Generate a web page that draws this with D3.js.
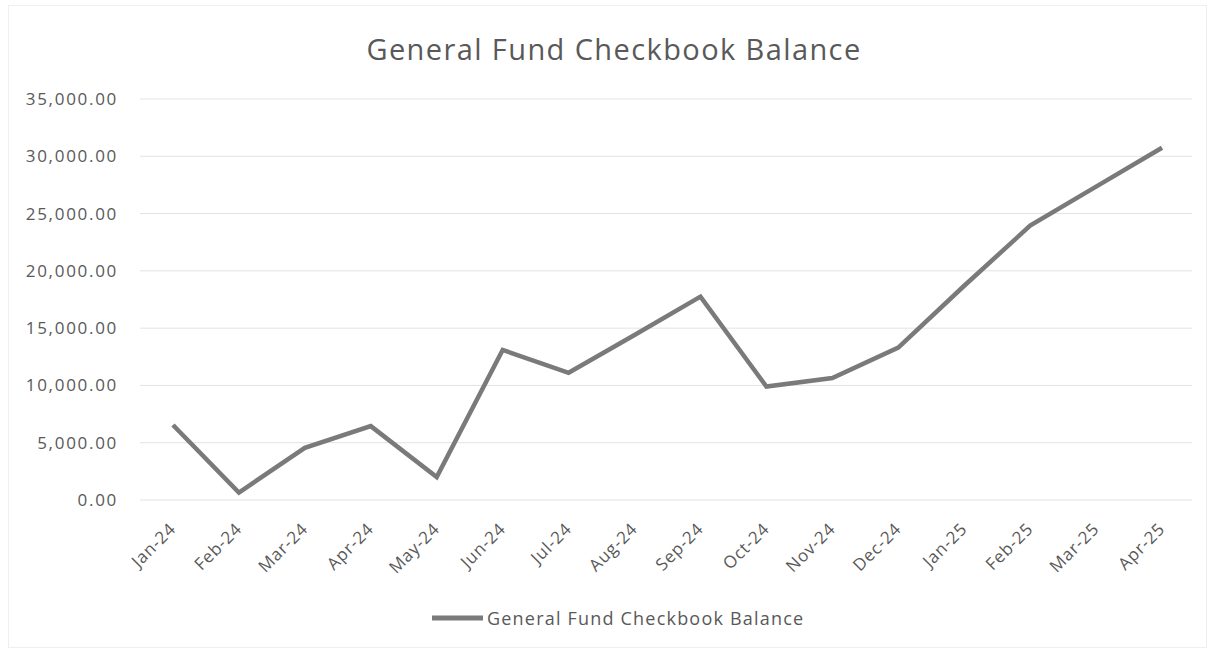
<!DOCTYPE html>
<html>
<head>
<meta charset="utf-8">
<script src="https://cdn.jsdelivr.net/npm/d3@7"></script>
<style>
  body { margin: 0; background: #fff; }
  text { font-family: "Open Sans", "Liberation Sans", sans-serif; fill: #595959; }
</style>
</head>
<body>
<div id="chart"></div>
<script>
// data
var months = ["Jan-24", "Feb-24", "Mar-24", "Apr-24", "May-24", "Jun-24", "Jul-24", "Aug-24",
              "Sep-24", "Oct-24", "Nov-24", "Dec-24", "Jan-25", "Feb-25", "Mar-25", "Apr-25"]
var balance = [6550, 650, 4550, 6450, 2000, 13100, 11100, 14400,
               17750, 9900, 10650, 13300, 18700, 23950, 27350, 30750]
var yTicks = [0, 5000, 10000, 15000, 20000, 25000, 30000, 35000]
var seriesName = "General Fund Checkbook Balance"

var W = 1215, H = 652
var plotLeft = 140, plotRight = 1195, plotTop = 99, plotBottom = 500

var svg = d3.select("#chart").append("svg")
    .attr("width", W)
    .attr("height", H)

// faint frame of the chart area
svg.append("rect")
    .attr("x", 8.5).attr("y", 5.5)
    .attr("width", W - 17).attr("height", H - 10)
    .style("fill", "none")
    .style("stroke", "#efefef")

var x = d3.scaleBand().domain(months).range([plotLeft, plotRight])
var y = d3.scaleLinear().domain([0, 35000]).range([plotBottom, plotTop])

// title
svg.append("text")
    .attr("x", 614)
    .attr("y", 60)
    .attr("text-anchor", "middle")
    .style("font-size", "29px")
    .style("letter-spacing", "1.4px")
    .text("General Fund Checkbook Balance")

// horizontal grid lines
svg.append("g").selectAll("line").data(yTicks).join("line")
    .attr("x1", plotLeft)
    .attr("x2", plotRight - 3)
    .attr("y1", d => y(d))
    .attr("y2", d => y(d))
    .style("stroke", "#e2e2e2")
    .style("stroke-width", 1)

// y axis labels
var fmt = d3.format(",.2f")
var yAxis = d3.axisLeft(y).tickValues(yTicks).tickFormat(fmt).tickSize(0).tickPadding(0)
var gy = svg.append("g")
    .attr("transform", "translate(118,0)")
    .call(yAxis)
gy.select(".domain").remove()
gy.selectAll("text")
    .style("font-size", "17px")
    .style("letter-spacing", "1.7px")
    .style("fill", "#595959")
    .style("font-family", "'Open Sans', sans-serif")

// x axis labels, rotated
var xAxis = d3.axisBottom(x).tickSize(0).tickPadding(0)
var gx = svg.append("g")
    .attr("transform", "translate(0," + plotBottom + ")")
    .call(xAxis)
gx.select(".domain").remove()
gx.selectAll("text")
    .style("font-size", "17px")
    .style("letter-spacing", "0.8px")
    .style("fill", "#595959")
    .style("font-family", "'Open Sans', sans-serif")
    .attr("text-anchor", "end")
    .attr("dy", null)
    .attr("y", 0)
    .attr("transform", "translate(4,30) rotate(-45)")

// the line
var line = d3.line()
    .x((d, i) => x(months[i]) + x.bandwidth() / 2)
    .y(d => y(d))

svg.append("path")
    .datum(balance)
    .attr("d", line)
    .style("fill", "none")
    .style("stroke", "#7a7a7a")
    .style("stroke-width", 4.5)
    .style("stroke-linejoin", "miter")

// legend
var legend = svg.append("g").attr("transform", "translate(432,618)")
legend.append("line")
    .attr("x1", 0).attr("x2", 51)
    .attr("y1", 0).attr("y2", 0)
    .style("stroke", "#7a7a7a")
    .style("stroke-width", 5)
legend.append("text")
    .attr("x", 55)
    .attr("y", 6.5)
    .style("font-size", "18px")
    .style("letter-spacing", "1.2px")
    .text(seriesName)
</script>
</body>
</html>
